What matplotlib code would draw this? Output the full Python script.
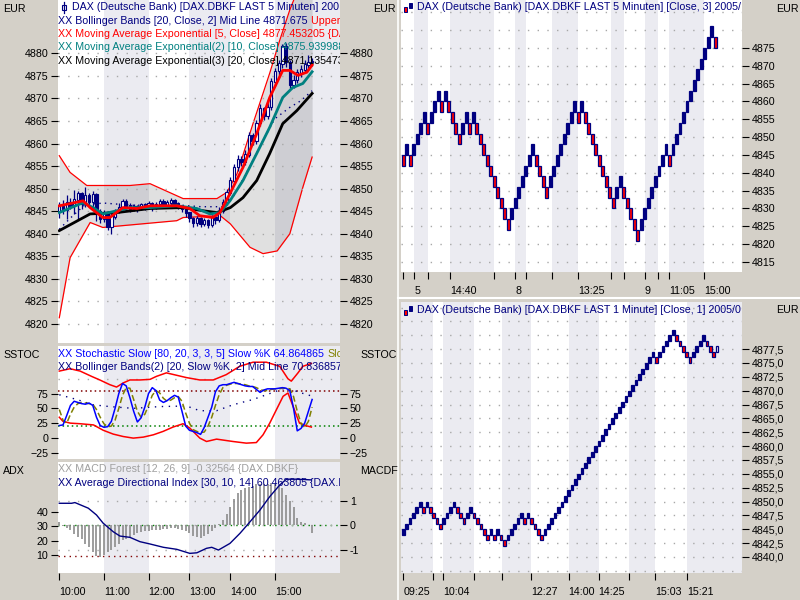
import matplotlib
matplotlib.use("Agg")
import matplotlib.pyplot as plt
from matplotlib.patches import Rectangle
import numpy as np

plt.rcParams['font.family'] = ['Liberation Sans', 'DejaVu Sans']
plt.rcParams['font.size'] = 7.7

# ---------------- data: left chart, 5 minute bars ----------------
bar_ticks = [0, 12, 24, 35, 46, 58]
bar_labels = ['10:00', '11:00', '12:00', '13:00', '14:00', '15:00']

opens = [4844.8, 4846.0, 4845.2, 4847.0, 4846.2, 4847.5, 4848.8, 4846.5, 4848.5, 4847.0,
         4848.6, 4845.0, 4843.2, 4844.4, 4841.6, 4843.8, 4845.0, 4845.8, 4847.2, 4846.2,
         4845.4, 4846.0, 4845.5, 4846.4, 4846.0, 4846.6, 4845.8, 4846.5, 4847.2, 4846.4,
         4846.8, 4847.4, 4846.6, 4846.2, 4845.4, 4844.6, 4843.4, 4842.4, 4843.4, 4842.2,
         4842.8, 4842.0, 4843.6, 4843.0, 4845.0, 4847.0, 4849.0, 4851.8, 4854.7, 4856.5,
         4855.8, 4857.5, 4861.8, 4860.5, 4864.5, 4867.8, 4866.0, 4868.0, 4873.6, 4876.0,
         4877.6, 4881.5, 4878.0, 4873.0, 4874.0, 4875.6, 4876.4, 4877.4, 4878.0]
closes = [4846.0, 4845.2, 4847.0, 4846.2, 4847.5, 4848.8, 4846.5, 4848.5, 4847.0, 4848.6,
          4845.0, 4843.2, 4844.4, 4841.6, 4843.8, 4845.0, 4845.8, 4847.2, 4846.2, 4845.4,
          4846.0, 4845.5, 4846.4, 4846.0, 4846.6, 4845.8, 4846.5, 4847.2, 4846.4, 4846.8,
          4847.4, 4846.6, 4846.2, 4845.4, 4844.6, 4843.4, 4842.4, 4843.4, 4842.2, 4842.8,
          4842.0, 4843.6, 4843.0, 4845.0, 4847.0, 4849.0, 4851.8, 4854.7, 4856.5, 4855.8,
          4857.5, 4861.8, 4860.5, 4864.5, 4867.8, 4866.0, 4868.0, 4873.6, 4876.0, 4877.6,
          4881.5, 4878.0, 4873.0, 4874.0, 4875.6, 4876.4, 4877.4, 4878.0, 4878.2]
highs = [4847.0, 4847.5, 4848.6, 4848.0, 4849.6, 4849.5, 4849.2, 4850.4, 4849.0, 4849.4,
         4849.0, 4845.6, 4845.2, 4845.0, 4844.6, 4845.6, 4846.8, 4847.8, 4847.8, 4846.8,
         4846.6, 4846.4, 4846.9, 4846.8, 4847.2, 4847.0, 4847.0, 4847.8, 4847.6, 4847.4,
         4847.9, 4847.8, 4847.0, 4846.4, 4845.8, 4844.8, 4843.8, 4844.0, 4843.8, 4843.4,
         4843.2, 4844.2, 4844.0, 4846.0, 4847.8, 4850.0, 4852.6, 4855.4, 4857.4, 4857.2,
         4858.6, 4862.6, 4862.4, 4865.2, 4868.8, 4868.0, 4869.8, 4874.6, 4876.8, 4878.4,
         4882.0, 4882.2, 4878.6, 4875.2, 4876.6, 4877.4, 4878.6, 4879.6, 4879.0]
lows = [4843.6, 4844.4, 4843.3, 4845.4, 4844.4, 4843.0, 4845.6, 4846.0, 4846.2, 4846.0,
        4842.8, 4842.4, 4842.6, 4840.8, 4839.9, 4843.2, 4844.6, 4845.2, 4845.6, 4844.8,
        4845.0, 4844.8, 4845.2, 4845.2, 4845.4, 4845.0, 4845.4, 4846.0, 4845.8, 4846.0,
        4846.2, 4846.0, 4845.4, 4844.8, 4843.8, 4842.6, 4841.6, 4841.8, 4841.4, 4841.8,
        4841.2, 4841.6, 4842.2, 4842.6, 4844.6, 4846.4, 4848.6, 4851.2, 4854.0, 4855.0,
        4855.2, 4857.0, 4859.6, 4860.0, 4863.8, 4865.2, 4865.4, 4867.4, 4872.8, 4875.2,
        4876.8, 4877.0, 4872.4, 4872.2, 4873.4, 4874.8, 4875.8, 4876.6, 4877.2]

ema5_x = [0, 6.4, 8.3, 11.7, 13.6, 17.1, 20.9, 24.4, 31.6, 35.1, 37.8, 41.3, 43.2, 45.9,
          49.4, 53.1, 56.6, 60.1, 62, 64.2, 66.6, 68]
ema5_y = [4846.2, 4847.3, 4845.8, 4843.6, 4843.6, 4845.8, 4845.6, 4846.2, 4846.2, 4845.6,
          4844.0, 4843.6, 4844.7, 4848.9, 4854.7, 4862.2, 4870.2, 4876.2, 4876.2, 4875.1,
          4875.8, 4877.4]
ema10_x = [0, 6.4, 9.1, 11.7, 15.5, 19, 24.4, 31.6, 37, 40.5, 43.2, 45.9, 49.4, 53.1,
           56.6, 60.1, 62.8, 65.5, 68]
ema10_y = [4844.7, 4846.9, 4845.8, 4844.4, 4845.1, 4845.8, 4845.8, 4846.2, 4845.6, 4844.4,
           4844.7, 4847.3, 4851.8, 4857.8, 4863.6, 4870.2, 4872.4, 4873.3, 4875.9]
ema20_x = [0, 8.3, 15.5, 24.4, 33.3, 38.7, 42.4, 46, 49.4, 53.1, 56.6, 60.1, 63.9, 68]
ema20_y = [4840.7, 4844.4, 4844.7, 4845.6, 4845.8, 4845.1, 4844.7, 4845.8, 4848.0, 4851.8,
           4857.8, 4864.4, 4867.3, 4871.1]

bb_up_x = [0, 2.9, 7.4, 19, 24.4, 33.3, 42.4, 45.1, 47.8, 52.1, 56.6, 59.3, 62, 68]
bb_up_y = [4857.3, 4853.6, 4850.7, 4850.7, 4851.1, 4847.8, 4847.8, 4849.2, 4853.3, 4864.4,
           4875.6, 4882.9, 4889.6, 4902.0]
bb_lo_x = [0, 2.9, 8.3, 11.7, 31.6, 33.3, 43.3, 46, 51.3, 54.8, 58.6, 62, 65.5, 68]
bb_lo_y = [4821.4, 4834.7, 4842.5, 4841.4, 4842.9, 4843.6, 4844.0, 4842.2, 4837.0, 4835.6,
           4836.2, 4840.0, 4850.3, 4857.0]
bb_mid_x = [0, 3, 7, 12, 20, 30, 38, 44, 47, 51, 55, 58, 62, 65, 68]
bb_mid_y = [4841.0, 4843.5, 4846.5, 4846.8, 4846.3, 4846.5, 4846.0, 4846.0, 4848.5, 4854.5,
            4861.0, 4865.5, 4868.0, 4869.5, 4871.7]

slow_k = [21, 22, 38, 55, 62, 60, 58, 57, 59, 55, 35, 21, 18, 19, 28, 50, 75, 92, 88, 68,
          45, 27, 34, 52, 75, 85, 80, 64, 60, 63, 68, 72, 69, 45, 20, 13, 11, 9, 6, 18,
          35, 52, 78, 88, 90, 90, 92, 94, 92, 90, 88, 87, 87, 82, 77, 81, 83, 83, 83, 84,
          85, 84, 80, 50, 12, 16, 25, 45, 65]
slow_d = [48, 30, 25, 40, 52, 58, 60, 59, 58, 57, 48, 35, 24, 19, 20, 30, 50, 72, 85, 84,
          65, 45, 35, 40, 55, 72, 80, 76, 67, 62, 64, 68, 70, 62, 42, 25, 14, 11, 9, 10,
          20, 35, 55, 73, 85, 89, 91, 92, 92, 91, 90, 88, 87, 85, 82, 80, 80, 82, 83, 83,
          84, 84, 83, 70, 45, 25, 18, 28, 52]
st_up_x = [0, 2.9, 5.6, 8.7, 10.9, 13.6, 15.4, 17.2, 19, 21.7, 24.4, 26.1, 28.8, 31.5, 34.2,
           37.8, 41.4, 44.9, 48.5, 52.1, 55.7, 59.3, 61.5, 62.4, 64.2, 65.5, 67.8]
st_up_y = [113, 117, 113, 104, 98, 90, 86, 93, 98, 98, 99, 104, 110, 106, 102, 98, 98, 107,
           121, 128, 128, 121, 100, 96, 110, 121, 126]
st_lo_x = [0, 1, 3, 5.6, 9.2, 11.8, 14.5, 17.2, 19.9, 22.6, 25.3, 27.9, 30.6, 33.3, 35.1,
           37.8, 39.6, 42.3, 46.7, 50.3, 53, 54.8, 56.6, 58.4, 60.2, 61.5, 62.9, 64.6, 66.4,
           67.8]
st_lo_y = [35, 28, 25, 24, 22, 13, 6.5, 2.4, -0.3, 1.4, 5.3, 11, 18.4, 24, 16.7, -0.3, -6,
           -2, -6, -8.8, -7.8, 5.3, 25, 47.8, 70.4, 76, 53, 25, 20.6, 18.4]
st_mid_x = [0, 4.7, 9.1, 13.6, 19.9, 27, 34.2, 37.8, 42.3, 46.7, 52.1, 55.7, 61, 64.6, 67.8]
st_mid_y = [73, 65, 56, 53, 50, 53, 54, 46, 46, 56, 65, 73, 85, 77, 71]
st_hi_level, st_lo_level = 80, 20

macd = [0.15, -0.05, -0.12, -0.2, -0.35, -0.5, -0.58, -0.75, -0.9, -1.1, -1.27, -1.3, -1.22,
        -1.1, -1.0, -0.9, -0.75, -0.62, -0.55, -0.48, -0.4, -0.33, -0.28, -0.25, -0.22, -0.2,
        -0.2, -0.18, -0.17, -0.15, -0.12, -0.1, -0.14, -0.18, -0.22, -0.3, -0.42, -0.5, -0.52,
        -0.45, -0.35, -0.22, -0.1, 0.05, 0.2, 0.45, 0.75, 1.05, 1.3, 1.42, 1.5, 1.55, 1.62,
        1.68, 1.68, 1.7, 1.7, 1.72, 1.7, 1.65, 1.5, 1.25, 1.0, 0.75, 0.3, 0.15, 0.08, 0.0,
        -0.33]
adx_x = [0, 3.3, 4.2, 7.8, 10, 11.8, 14.5, 16.3, 19, 21.7, 24.4, 28, 31.6, 35.1, 37, 39.6,
         41, 42.8, 45.9, 48.6, 51.3, 54, 56.6, 59.3, 61.1, 63.8, 67.8]
adx_y = [45.8, 45.8, 46.3, 42.4, 37.7, 32, 26.1, 23.1, 22.2, 19.2, 17.6, 15.3, 13.9, 11.1,
         11.5, 14.6, 15.3, 13.4, 18, 25, 33, 41.2, 50.4, 58.5, 62.5, 62.5, 62.0]
adx_level = 9

# ---------------- data: right charts (renko style) ----------------
r5_low = [4842, 4845, 4842, 4845, 4848, 4851, 4854, 4851, 4854, 4857, 4860, 4857, 4860, 4857,
          4854, 4851, 4848, 4851, 4854, 4851, 4854, 4851, 4848, 4845, 4842, 4839, 4836, 4833,
          4830, 4827, 4824, 4827, 4830, 4833, 4836, 4839, 4842, 4845, 4842, 4839, 4836, 4833,
          4836, 4839, 4842, 4845, 4848, 4851, 4854, 4857, 4854, 4857, 4854, 4851, 4848, 4845,
          4842, 4839, 4836, 4833, 4830, 4833, 4836, 4833, 4830, 4827, 4824, 4821, 4824, 4827,
          4830, 4833, 4836, 4839, 4842, 4845, 4842, 4845, 4848, 4851, 4854, 4857, 4860, 4863,
          4866, 4869, 4872, 4875, 4878, 4875]
r5_dir = "DUDUUUUDUUUDUDDDDUUDUDDDDDDDDDDUUUUUUUDDDDUUUUUUUUDUDDDDDDDDDUUDDDDDUUUUUUUUDUUUUUUUUUUUUD"
r5_box = 3
r5_ticks = [0, 3.14, 7.14, 13.3, 26, 31.9, 35, 42.4, 49.8, 59.3, 63, 69, 72.6, 75.9, 85.9]
r5_labels = ['', '5', '', '14:40', '', '8', '', '', '13:25', '', '', '9', '', '11:05', '15:00']

r1_low = [4844, 4845, 4846, 4847, 4848, 4849, 4848, 4849, 4848, 4847, 4846, 4845, 4846, 4847,
          4848, 4849, 4848, 4847, 4846, 4847, 4848, 4847, 4846, 4845, 4844, 4843, 4844, 4843,
          4844, 4843, 4842, 4843, 4844, 4845, 4846, 4847, 4846, 4847, 4846, 4845, 4844, 4843,
          4844, 4845, 4846, 4847, 4848, 4849, 4850, 4851, 4852, 4853, 4854, 4855, 4856, 4857,
          4858, 4859, 4860, 4861, 4862, 4863, 4864, 4865, 4866, 4867, 4868, 4869, 4870, 4871,
          4872, 4873, 4874, 4875, 4876, 4875, 4876, 4877, 4878, 4879, 4880, 4879, 4878, 4877,
          4876, 4875, 4876, 4877, 4878, 4879, 4878, 4877, 4876, 4877]
r1_dir = ("UUUUUUDUDDDDUUUUDDDUUDDDDDUDUDDUUUUUDUDDDDUUUU"
          "UUUUUUUUUUUUUUUUUUUUUUUUUUU"
          "UUDUUUUUDDDDDUUUUDDDH")
r1_box = 1
r1_ticks = [0, 8.9, 11.9, 21.1, 29.4, 37.9, 49, 57.9, 66.8, 74.7, 84.1]
r1_labels = ['09:25', '', '10:04', '', '', '12:27', '14:00', '14:25', '', '15:03', '15:21']

# ---------------- styling ----------------
WIN = '#d4d0c8'
BAND = '#ebebf1'
NAVY = '#000080'
RED = '#ff0000'
TEAL = '#008080'
FS = 7.7
W, H = 800, 600

fig = plt.figure(figsize=(8, 6), dpi=100, facecolor=WIN)


def box(x0, y0, x1, y1):
    return [x0 / W, 1 - y1 / H, (x1 - x0) / W, (y1 - y0) / H]


def base(ax):
    ax.set_facecolor('white')
    for s in ax.spines.values():
        s.set_visible(False)
    ax.tick_params(colors='black', labelsize=FS, width=0.8)


def bands(ax, ticks, lo, hi, first_gray=False):
    edges = [lo] + list(ticks[1:]) + [hi]
    start = 0 if first_gray else 1
    for a, b in zip(edges[start::2], edges[start + 1::2]):
        ax.axvspan(a, b, color=BAND, lw=0, zorder=0)


def title(ax, bx, px, py, parts):
    x0, y0, x1, y1 = bx
    x = (px - x0) / (x1 - x0)
    y = 1 - (py - y0) / (y1 - y0)
    r = fig.canvas.get_renderer()
    for s, c in parts:
        t = ax.text(x, y, s, color=c, transform=ax.transAxes, va='center', ha='left',
                    fontsize=FS, zorder=20)
        t.set_clip_on(True)
        t.set_clip_box(ax.bbox)
        bb = t.get_window_extent(r)
        x = ax.transAxes.inverted().transform((bb.x1, bb.y0))[0]


def ftext(px, py, s, **kw):
    fig.text(px / W, 1 - py / H, s, va='center', fontsize=FS, **kw)


XL = (-0.35, 75.5)
n = np.arange(len(closes))

# ---------- price panel ----------
B_PRICE = (58, 0, 340, 343)
ax_p = fig.add_axes(box(*B_PRICE))
base(ax_p)
ax_p.set_xlim(*XL)
ax_p.set_ylim(4815.8, 4891.8)
bands(ax_p, bar_ticks, XL[0], XL[1])
xs = np.linspace(0, 68, 200)
ax_p.fill_between(xs, np.interp(xs, bb_lo_x, bb_lo_y), np.interp(xs, bb_up_x, bb_up_y),
                  color='black', alpha=0.12, lw=0, zorder=1)
ax_p.plot(bb_up_x, bb_up_y, color=RED, lw=0.9, zorder=2)
ax_p.plot(bb_lo_x, bb_lo_y, color=RED, lw=0.9, zorder=2)
ax_p.plot(bb_mid_x, bb_mid_y, color=NAVY, lw=1.0, ls=(0, (1, 3)), zorder=2)
o = np.array(opens); c = np.array(closes)
up = c >= o
ax_p.vlines(n, lows, highs, color=NAVY, lw=0.9, zorder=3)
ax_p.bar(n, np.abs(c - o) + 0.15, bottom=np.minimum(o, c), width=0.62,
         color=np.where(up, 'white', NAVY), edgecolor=NAVY, lw=0.8, zorder=3)
ax_p.plot(ema20_x, ema20_y, color='black', lw=2.0, zorder=4)
ax_p.plot(ema10_x, ema10_y, color=TEAL, lw=2.0, zorder=4)
ax_p.plot(ema5_x, ema5_y, color=RED, lw=2.0, zorder=4)
ax_p.set_yticks(np.arange(4820, 4881, 5))
ax_p.set_xticks([])
ax_p.yaxis.grid(True, color='#a8a8a8', ls=(0, (1, 6)), lw=1)
ax_p.set_axisbelow(False)
ax_p.tick_params(axis='y', left=True, right=True, labelleft=True, labelright=True,
                 length=5, pad=2)
title(ax_p, B_PRICE, 72, 7, [('DAX (Deutsche Bank) [DAX.DBKF LAST 5 Minuten] 200', NAVY)])
title(ax_p, B_PRICE, 58.5, 20.5, [('XX Bollinger Bands [20, Close, 2] Mid Line 4871.675 ', NAVY),
                                  ('Upper B', RED)])
title(ax_p, B_PRICE, 58.5, 34, [('XX Moving Average Exponential [5, Close] 4877.453205 {DA', RED)])
title(ax_p, B_PRICE, 58.5, 47.5, [('XX Moving Average Exponential(2) [10, Close] 4875.939988', TEAL)])
title(ax_p, B_PRICE, 58.5, 61, [('XX Moving Average Exponential(3) [20, Close] 4871.135473', 'black')])
# small candle icon
fig.add_artist(plt.Line2D([63.5 / W, 63.5 / W], [1 - 1.5 / H, 1 - 12.5 / H], color=NAVY, lw=0.9))
fig.add_artist(Rectangle((61.5 / W, 1 - 10 / H), 4 / W, 5 / H, facecolor='white',
                         edgecolor=NAVY, lw=0.8))

# ---------- stochastic panel ----------
B_ST = (58, 346, 340, 459)
ax_s = fig.add_axes(box(*B_ST))
base(ax_s)
ax_s.set_xlim(*XL)
ax_s.set_ylim(-35.6, 155.4)
bands(ax_s, bar_ticks, XL[0], XL[1])
ax_s.axhline(100, color='#a8a8a8', ls=(0, (1, 6)), lw=1, zorder=1)
ax_s.axhline(st_hi_level, color='#800000', ls=(0, (1, 2)), lw=1.1, zorder=1)
ax_s.axhline(st_lo_level, color='#008000', ls=(0, (1, 2)), lw=1.1, zorder=1)
ax_s.plot(st_mid_x, st_mid_y, color=NAVY, lw=1.0, ls=(0, (1, 4)), zorder=2)
ax_s.plot(st_up_x, st_up_y, color=RED, lw=1.1, zorder=2)
ax_s.plot(st_lo_x, st_lo_y, color=RED, lw=1.1, zorder=2)
ax_s.plot(n, slow_d, color='#808000', lw=1.1, ls=(0, (4, 2)), zorder=3)
ax_s.plot(n, slow_k, color='#0000ff', lw=1.1, zorder=4)
ax_s.set_yticks([-25, 0, 25, 50, 75])
ax_s.set_xticks([])
ax_s.tick_params(axis='y', left=True, right=True, labelleft=True, labelright=True,
                 length=5, pad=2)
title(ax_s, B_ST, 58.5, 354, [('XX Stochastic Slow [80, 20, 3, 3, 5] Slow %K 64.864865 ', '#0000ff'),
                              ('Slo', '#808000')])
title(ax_s, B_ST, 58.5, 367, [('XX Bollinger Bands(2) [20, Slow %K, 2] Mid Line 70.836857 ', NAVY),
                              ('U', RED)])

# ---------- ADX / MACD forest panel ----------
B_MD = (58, 462, 340, 573)
ax_a = fig.add_axes(box(*B_MD))
base(ax_a)
ax_a.set_xlim(*XL)
ax_a.set_ylim(-2.5, 74.4)
ax_m = ax_a.twinx()
for s in ax_m.spines.values():
    s.set_visible(False)
ax_m.set_ylim(-1.95, 2.58)
ax_m.set_yticks([-1, 0, 1])
ax_m.set_yticklabels(['-1', '0', '1'])
ax_m.yaxis.grid(True, color='#a8a8a8', ls=(0, (1, 6)), lw=1)
ax_m.axhline(0, color='#008000', ls=(0, (1, 3)), lw=1.0, zorder=1)
ax_m.vlines(n, 0, macd, color='#8c8c8c', lw=1.2, zorder=2)
ax_m.tick_params(axis='y', colors='black', labelsize=FS, length=5, pad=2, width=0.8)
ax_m.set_facecolor('white')
ax_m.patch.set_visible(True)
bands(ax_m, bar_ticks, XL[0], XL[1])
# ADX axes drawn above the MACD axes, with a see-through background
ax_a.set_zorder(ax_m.get_zorder() + 1)
ax_a.patch.set_visible(False)
ax_a.axhline(adx_level, color='#800000', ls=(0, (1, 3)), lw=1.0, zorder=1)
ax_a.plot(adx_x, adx_y, color=NAVY, lw=1.0, zorder=3)
ax_a.set_yticks([10, 20, 30, 40])
ax_a.set_xticks(bar_ticks, labels=bar_labels, ha='left')
ax_a.tick_params(axis='x', length=5, pad=5)
ax_a.tick_params(axis='y', length=5, pad=2)
title(ax_a, B_MD, 58.5, 469, [('XX MACD Forest [12, 26, 9] -0.32564 {DAX.DBKF}', '#a0a0a0')])
title(ax_a, B_MD, 58.5, 483, [('XX Average Directional Index [30, 10, 14] 60.463805 {DAX.D', NAVY)])


# ---------- renko panels ----------
def renko(bx, lows_, dirs, boxsize, ticks, labels, xlim, ylim, yt, ylabels, minor, width,
          ttl, ttl_y, first_gray):
    ax = fig.add_axes(box(*bx))
    base(ax)
    ax.set_xlim(*xlim)
    ax.set_ylim(*ylim)
    bands(ax, ticks, xlim[0], xlim[1], first_gray=first_gray)
    face = {'U': NAVY, 'D': RED, 'H': 'white'}
    ax.bar(np.arange(len(lows_)), boxsize, bottom=lows_, width=width,
           color=[face[d] for d in dirs], edgecolor=NAVY, lw=0.9, zorder=3)
    ax.set_yticks(yt)
    ax.set_yticklabels(ylabels)
    ax.set_yticks(minor, minor=True)
    ax.yaxis.grid(True, which='both', color='#a8a8a8', ls=(0, (1, 6)), lw=1)
    ax.tick_params(axis='y', which='minor', length=0, right=False, left=False)
    ax.tick_params(axis='y', left=False, right=True, labelleft=False, labelright=True,
                   length=5, pad=2)
    ax.set_xticks(ticks, labels=labels, ha='left')
    ax.tick_params(axis='x', length=5, pad=5)
    title(ax, bx, 416.7, ttl_y, [(ttl, NAVY)])
    fig.add_artist(Rectangle((404 / W, 1 - (ttl_y + 4.5) / H), 3 / W, 5 / H,
                             facecolor=RED, edgecolor=NAVY, lw=0.7))
    fig.add_artist(Rectangle((408.5 / W, 1 - (ttl_y + 0.5) / H), 3 / W, 5 / H,
                             facecolor=NAVY, edgecolor=NAVY, lw=0.7))
    return ax


t5 = np.arange(4815, 4876, 5)
renko((401, 0, 742, 272), r5_low, r5_dir, r5_box, r5_ticks, r5_labels, (-0.66, 96.7),
      (4812.2, 4888.4), t5, [str(v) for v in t5], [4880, 4885], 0.85,
      'DAX (Deutsche Bank) [DAX.DBKF LAST 5 Minuten] [Close, 3] 2005/', 7.3, False)
t1 = np.arange(4840, 4877.6, 2.5)
renko((401, 302, 742, 573), r1_low, r1_dir, r1_box, r1_ticks, r1_labels, (-0.68, 100.4),
      (4837.1, 4886.0), t1, [f'{v:.1f}'.replace('.', ',') for v in t1],
      [4837.5, 4880, 4882.5, 4885], 0.8,
      'DAX (Deutsche Bank) [DAX.DBKF LAST 1 Minute] [Close, 1] 2005/0', 310, True)

# splitter lines
fig.add_artist(plt.Line2D([397.5 / W, 397.5 / W], [0, 1], color='white', lw=1.2))
fig.add_artist(plt.Line2D([398 / W, 1], [1 - 297.5 / H, 1 - 297.5 / H], color='white', lw=1.5))

# axis captions
ftext(3, 9, 'EUR')
ftext(373, 9, 'EUR')
ftext(3, 355, 'SSTOC')
ftext(360, 355, 'SSTOC')
ftext(3, 471, 'ADX')
ftext(360, 471, 'MACDF')
ftext(776, 9, 'EUR')
ftext(776, 310, 'EUR')

fig.savefig('out.png', dpi=100, facecolor=WIN)
